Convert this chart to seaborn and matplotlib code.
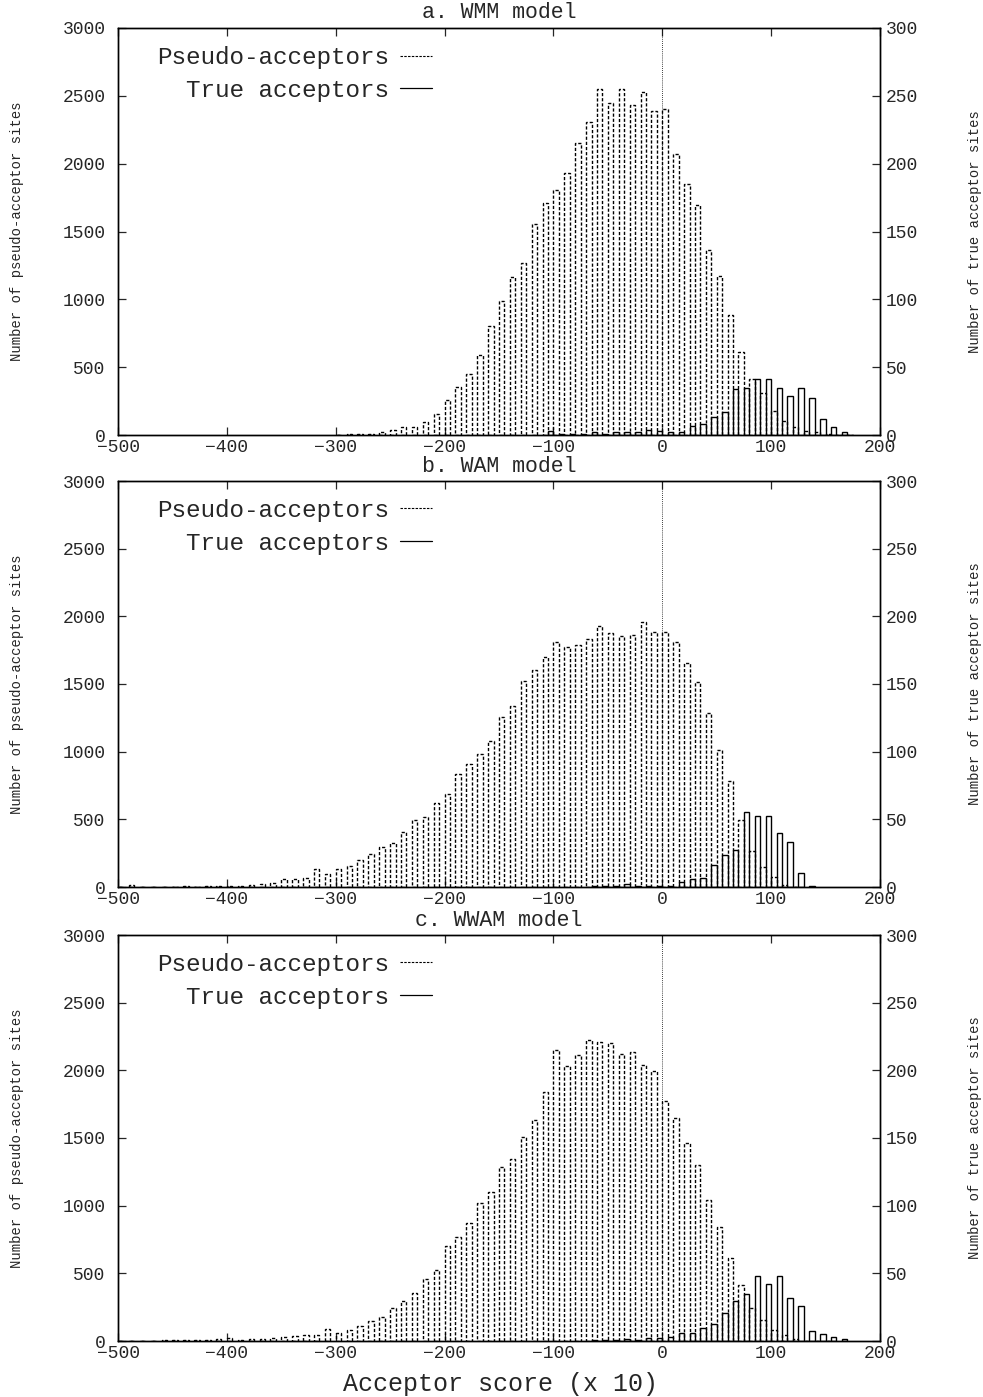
import numpy as np
import pandas as pd
import matplotlib
matplotlib.use("Agg")
import matplotlib.pyplot as plt
from matplotlib.lines import Line2D
import seaborn as sns

# Score bins (lower edge, acceptor score x 10), one bin every 10 units
pseudo_bins_a = list(range(-300, 180, 10))
pseudo_wmm = [3, 5, 8, 10, 20, 36, 62, 56, 94, 153, 258, 357, 448, 588, 805, 987,
              1164, 1268, 1558, 1711, 1809, 1932, 2149, 2307, 2553, 2450, 2548, 2430,
              2528, 2388, 2405, 2068, 1851, 1696, 1362, 1172, 886, 610, 411, 313, 177,
              103, 62, 30, 20, 6, 3, 1]
true_bins_a = list(range(-100, 180, 10))
true_wmm = [3, 1, 1, 1, 2, 1, 2, 2, 2, 4, 3, 2, 2, 7, 8, 13, 17, 34, 35, 41, 41,
            35, 29, 35, 27, 12, 6, 2]

pseudo_bins_b = list(range(-500, 150, 10))
pseudo_wam = [3, 12, 3, 2, 3, 2, 4, 3, 5, 6, 8, 7, 17, 20, 32, 62, 59, 69, 130, 98,
              130, 155, 202, 244, 293, 323, 404, 495, 515, 618, 684, 835, 906, 982,
              1081, 1258, 1339, 1521, 1600, 1701, 1807, 1775, 1785, 1829, 1928, 1874,
              1854, 1861, 1955, 1886, 1886, 1812, 1652, 1514, 1288, 1012, 783, 495,
              268, 145, 76, 12, 3, 0, 0]
true_bins_b = list(range(-60, 150, 10))
true_wam = [1, 1, 1, 2, 1, 1, 1, 1, 3.4, 5.8, 6.4, 16.5, 24, 27, 55.5, 52.7, 52.7,
            39.7, 33.5, 10.6, 1]

pseudo_bins_c = list(range(-500, 160, 10))
pseudo_wwam = [3, 3, 3, 3, 4, 4, 5, 5, 7, 12, 25, 10, 12, 17, 20, 27, 37, 42, 47, 91,
               57, 81, 113, 150, 175, 246, 296, 352, 460, 524, 702, 766, 869, 1017,
               1103, 1288, 1342, 1504, 1632, 1841, 2149, 2033, 2112, 2223, 2206, 2203,
               2120, 2132, 2041, 1996, 1773, 1649, 1460, 1300, 1041, 840, 610, 413,
               241, 155, 81, 42, 12, 3, 2, 1]
true_bins_c = list(range(-60, 180, 10))
true_wwam = [1, 1, 1, 1.5, 1, 2, 2, 3.2, 6.2, 6.2, 9.4, 12.3, 21, 29.5, 34.5, 48, 42,
             48, 32, 26, 7.4, 5, 3.2, 1.2]

panel_titles = ["a. WMM model", "b. WAM model", "c. WWAM model"]
legend_labels = ["Pseudo-acceptors", "True acceptors"]
x_ticks = [-500, -400, -300, -200, -100, 0, 100, 200]
left_ticks = [0, 500, 1000, 1500, 2000, 2500, 3000]
right_ticks = [0, 50, 100, 150, 200, 250, 300]

panels = [
    (pseudo_bins_a, pseudo_wmm, true_bins_a, true_wmm),
    (pseudo_bins_b, pseudo_wam, true_bins_b, true_wam),
    (pseudo_bins_c, pseudo_wwam, true_bins_c, true_wwam),
]

sns.set_style("ticks")
plt.rcParams["font.family"] = ["Liberation Mono", "DejaVu Sans"]
plt.rcParams["axes.linewidth"] = 1.0

W, H = 983, 1397
fig = plt.figure(figsize=(W / 100, H / 100), dpi=100)

# axes boxes in pixels: (left, top, right, bottom)
boxes = [(118, 28, 880, 435), (118, 481, 880, 887), (118, 935, 880, 1341)]

DASH = (0, (2.3, 1.4))

for (pb, pv, tb, tv), title, (l, t, r, b) in zip(panels, panel_titles, boxes):
    ax = fig.add_axes([l / W, 1 - b / H, (r - l) / W, (b - t) / H])
    ax2 = ax.twinx()

    dfp = pd.DataFrame({"score": np.array(pb) + 2.5, "count": pv})
    dfp = dfp[dfp["count"] > 0]
    dft = pd.DataFrame({"score": np.array(tb) - 2.5, "count": tv})
    dft = dft[dft["count"] > 0]

    sns.barplot(data=dfp, x="score", y="count", native_scale=True, width=0.5,
                fill=False, color="black", errorbar=None, linewidth=1.0,
                linestyle=DASH, ax=ax)
    sns.barplot(data=dft, x="score", y="count", native_scale=True, width=0.5,
                fill=False, color="black", errorbar=None, linewidth=1.0, ax=ax2)

    ax.set_xlim(-500, 200)
    ax.set_ylim(0, 3000)
    ax2.set_ylim(0, 300)

    ax.set_xticks(x_ticks)
    ax.set_xticklabels([f"{v:d}".replace("-", "\u2212") for v in x_ticks])
    ax.set_yticks(left_ticks)
    ax.set_yticklabels([str(v) for v in left_ticks])
    ax2.set_yticks(right_ticks)
    ax2.set_yticklabels([str(v) for v in right_ticks])

    ax.tick_params(axis="x", direction="in", length=6, width=0.9, top=True,
                   bottom=True, labelsize=13, pad=3)
    ax.tick_params(axis="y", direction="in", length=6, width=0.9, left=True,
                   right=False, labelsize=13, pad=9)
    ax2.tick_params(axis="y", direction="in", length=6, width=0.9, right=True,
                    left=False, labelsize=13, pad=4)
    ax2.tick_params(axis="x", top=False, bottom=False)

    ax.set_xlabel("")
    ax.set_ylabel("Number of pseudo-acceptor sites", fontsize=10)
    ax.yaxis.set_label_coords(-0.124, 0.5)
    ax2.set_xlabel("")
    ax2.set_ylabel("Number of true acceptor sites", fontsize=10, rotation=90)
    ax2.yaxis.set_label_coords(1.115, 0.5)

    for sp in ax.spines.values():
        sp.set_visible(True)
        sp.set_color("black")
    for sp in ax2.spines.values():
        sp.set_color("black")

    ax2.axvline(0, color="black", lw=0.6, ls=(0, (1, 1.5)))

    ax.text(0.5, 1 + 15 / (b - t), title, transform=ax.transAxes, ha="center",
            va="center", fontsize=15.5)

    handles = [Line2D([], [], color="black", lw=0.8, ls=(0, (2.2, 1.2))),
               Line2D([], [], color="black", lw=0.9)]
    ax2.legend(handles, legend_labels, loc="upper right",
               bbox_to_anchor=(314 / 762, 1 - 18 / 406), frameon=False,
               markerfirst=False, fontsize=17.5, handlelength=1.3,
               handletextpad=0.45, labelspacing=0.4, borderpad=0,
               borderaxespad=0)

fig.text(500 / W, 1 - 1384 / H, "Acceptor score (x 10)", ha="center",
         va="center", fontsize=18)

fig.savefig("out.png", dpi=100)
